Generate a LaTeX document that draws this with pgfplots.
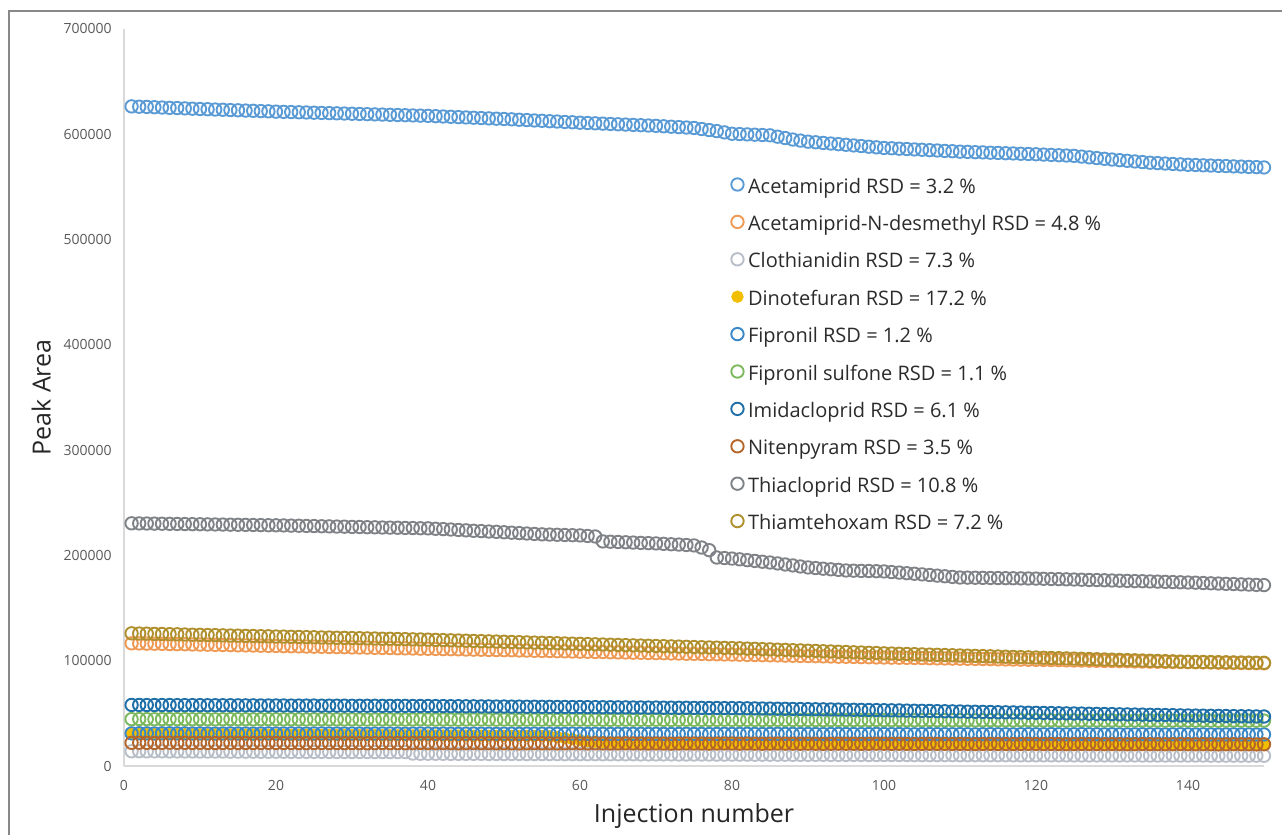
\documentclass[border=0pt]{standalone}
\usepackage{fontspec}
\setmainfont{Open Sans}
\usepackage{pgfplots}
\usepackage{pgfplotstable}
\pgfplotsset{compat=1.18}
\definecolor{cA}{HTML}{5B9BD5}
\definecolor{cB}{HTML}{EE9A55}
\definecolor{cC}{HTML}{B8BEC8}
\definecolor{cD}{HTML}{F2BE00}
\definecolor{cE}{HTML}{3A87C8}
\definecolor{cF}{HTML}{7CB95E}
\definecolor{cG}{HTML}{1F6FA8}
\definecolor{cH}{HTML}{B5662A}
\definecolor{cI}{HTML}{7F8286}
\definecolor{cJ}{HTML}{B08F2D}
\definecolor{framegray}{HTML}{888888}
\definecolor{axisgray}{HTML}{D9D9D9}
\definecolor{tickgray}{HTML}{595959}
\definecolor{legtext}{HTML}{2B2B2B}
\definecolor{labtext}{HTML}{262626}
% values in thousands
\pgfplotstableread{
x A B C D E F G H I J
1 626.5 116.5 14.0 30.5 31.0 44.5 58.0 22.0 230.5 126.0
2 626.2 116.4 14.0 30.5 31.1 44.6 58.0 22.1 230.4 125.8
3 626.0 116.2 13.9 30.4 31.0 44.5 57.9 22.0 230.3 125.7
4 625.7 116.1 13.9 30.4 30.9 44.4 57.9 21.9 230.2 125.5
5 625.4 116.0 13.9 30.4 31.0 44.5 57.9 22.0 230.1 125.4
6 625.1 115.8 13.8 30.3 31.1 44.6 57.9 22.1 230.0 125.2
7 624.9 115.7 13.8 30.3 31.0 44.5 57.8 22.0 229.9 125.1
8 624.6 115.6 13.8 30.2 31.0 44.5 57.8 22.0 229.8 124.9
9 624.3 115.4 13.8 30.2 30.9 44.4 57.8 21.9 229.7 124.7
10 624.0 115.3 13.7 30.2 31.0 44.5 57.8 22.0 229.6 124.6
11 623.8 115.2 13.7 30.1 30.9 44.4 57.7 21.9 229.5 124.4
12 623.5 115.0 13.7 30.1 30.8 44.3 57.7 21.8 229.4 124.3
13 623.3 114.9 13.7 30.1 30.9 44.4 57.7 21.9 229.3 124.1
14 623.0 114.8 13.6 30.0 31.0 44.5 57.7 22.0 229.2 123.9
15 622.8 114.6 13.6 30.0 30.9 44.4 57.6 21.9 229.1 123.8
16 622.5 114.5 13.6 29.9 30.9 44.4 57.6 21.9 229.0 123.6
17 622.3 114.4 13.6 29.9 30.8 44.3 57.6 21.8 228.9 123.5
18 622.0 114.2 13.5 29.9 30.9 44.4 57.5 21.9 228.8 123.3
19 621.8 114.1 13.5 29.8 31.0 44.5 57.5 22.0 228.7 123.2
20 621.5 114.0 13.5 29.8 30.9 44.4 57.5 21.9 228.6 123.0
21 621.3 113.8 13.5 29.8 30.9 44.3 57.5 21.8 228.5 122.9
22 621.1 113.7 13.4 29.7 31.0 44.4 57.4 21.9 228.3 122.7
23 620.9 113.6 13.4 29.7 30.9 44.3 57.4 21.8 228.2 122.6
24 620.7 113.4 13.4 29.6 30.8 44.2 57.4 21.7 228.0 122.4
25 620.5 113.3 13.4 29.6 30.9 44.3 57.4 21.8 227.9 122.3
26 620.3 113.2 13.4 29.6 31.0 44.4 57.3 21.9 227.7 122.1
27 620.1 113.0 13.3 29.5 30.9 44.3 57.3 21.8 227.6 122.0
28 619.9 112.9 13.3 29.5 30.9 44.3 57.3 21.8 227.4 121.8
29 619.7 112.8 13.3 29.5 30.8 44.2 57.3 21.7 227.3 121.7
30 619.5 112.6 13.3 29.4 30.9 44.3 57.2 21.8 227.1 121.5
31 619.3 112.5 13.3 29.4 30.8 44.2 57.2 21.7 227.0 121.4
32 619.1 112.4 13.3 29.3 30.7 44.1 57.2 21.6 226.8 121.2
33 618.9 112.2 13.2 29.3 30.8 44.2 57.2 21.7 226.7 121.1
34 618.7 112.1 13.2 29.3 30.9 44.3 57.1 21.8 226.5 120.9
35 618.5 112.0 13.2 29.2 30.8 44.2 57.1 21.7 226.4 120.8
36 618.3 111.8 13.2 29.2 30.8 44.2 57.1 21.7 226.3 120.6
37 618.1 111.7 13.2 29.2 30.7 44.1 57.1 21.6 226.1 120.5
38 617.9 111.6 11.8 29.1 30.8 44.2 57.0 21.7 226.0 120.3
39 617.7 111.4 11.6 29.1 30.9 44.3 57.0 21.8 225.8 120.2
40 617.5 111.3 11.6 29.0 30.8 44.2 57.0 21.7 225.7 120.0
41 617.2 111.2 11.6 29.0 30.7 44.1 56.9 21.6 225.3 119.8
42 616.9 111.0 11.6 29.0 30.8 44.2 56.9 21.7 225.0 119.6
43 616.6 110.9 11.5 28.9 30.7 44.1 56.8 21.6 224.6 119.4
44 616.3 110.8 11.5 28.9 30.6 44.0 56.8 21.5 224.2 119.2
45 616.0 110.6 11.5 28.9 30.7 44.1 56.7 21.6 223.8 119.0
46 615.7 110.5 11.5 28.8 30.8 44.2 56.7 21.7 223.4 118.8
47 615.4 110.4 11.5 28.8 30.7 44.1 56.6 21.6 223.1 118.6
48 615.1 110.2 11.4 28.7 30.7 44.1 56.6 21.6 222.7 118.4
49 614.8 110.1 11.4 28.7 30.6 44.0 56.5 21.5 222.4 118.2
50 614.5 110.0 11.4 28.7 30.7 44.1 56.5 21.6 222.0 118.0
51 614.2 109.9 11.4 28.6 30.7 44.0 56.4 21.5 221.6 117.8
52 613.8 109.7 11.4 28.6 30.6 43.9 56.4 21.4 221.2 117.6
53 613.5 109.6 11.3 28.6 30.7 44.0 56.3 21.5 220.8 117.4
54 613.1 109.4 11.3 28.5 30.8 44.1 56.3 21.6 220.4 117.2
55 612.8 109.3 11.3 28.5 30.7 44.0 56.2 21.5 220.0 117.0
56 612.4 109.2 11.3 28.2 30.7 44.0 56.2 21.5 219.8 116.8
57 612.1 109.0 11.3 27.5 30.6 43.9 56.1 21.4 219.6 116.6
58 611.7 108.9 11.2 26.5 30.7 44.0 56.1 21.5 219.4 116.4
59 611.4 108.7 11.2 25.5 30.8 44.1 56.0 21.6 219.2 116.2
60 611.0 108.6 11.2 24.5 30.7 44.0 56.0 21.5 219.0 116.0
61 610.7 108.5 11.2 23.6 30.6 43.9 55.9 21.4 218.5 115.8
62 610.4 108.3 11.2 23.0 30.7 44.0 55.9 21.5 218.0 115.6
63 610.1 108.2 11.1 22.5 30.6 43.9 55.8 21.4 213.3 115.4
64 609.8 108.0 11.1 22.2 30.5 43.8 55.8 21.3 213.0 115.2
65 609.5 107.9 11.1 22.0 30.6 43.9 55.7 21.4 212.8 115.0
66 609.2 107.8 11.1 21.9 30.7 44.0 55.7 21.5 212.5 114.8
67 608.9 107.6 11.1 21.9 30.6 43.9 55.6 21.4 212.2 114.6
68 608.6 107.5 11.0 21.8 30.6 43.9 55.6 21.4 211.9 114.4
69 608.3 107.3 11.0 21.8 30.5 43.8 55.5 21.3 211.7 114.2
70 608.0 107.2 11.0 21.8 30.6 43.9 55.5 21.4 211.4 114.0
71 607.6 107.1 11.0 21.7 30.5 43.8 55.4 21.3 211.0 113.8
72 607.2 106.9 11.0 21.7 30.4 43.7 55.4 21.2 210.6 113.6
73 606.8 106.8 10.9 21.7 30.5 43.8 55.3 21.3 210.3 113.4
74 606.4 106.6 10.9 21.6 30.6 43.9 55.3 21.4 209.9 113.2
75 606.0 106.5 10.9 21.6 30.5 43.8 55.2 21.3 209.5 113.0
76 605.0 106.4 10.9 21.6 30.5 43.8 55.2 21.3 207.5 112.8
77 604.0 106.2 10.9 21.5 30.4 43.7 55.1 21.2 205.0 112.6
78 603.0 106.1 10.8 21.5 30.5 43.8 55.1 21.3 198.0 112.4
79 601.8 105.9 10.8 21.5 30.6 43.9 55.0 21.4 197.5 112.2
80 600.5 105.8 10.8 21.4 30.5 43.8 55.0 21.3 197.0 112.0
81 600.2 105.7 10.8 21.4 30.5 43.7 54.9 21.2 196.3 111.8
82 599.9 105.5 10.8 21.4 30.6 43.8 54.8 21.3 195.5 111.5
83 599.6 105.4 10.7 21.3 30.5 43.7 54.7 21.2 194.8 111.3
84 599.3 105.2 10.7 21.3 30.4 43.6 54.6 21.1 194.0 111.0
85 599.0 105.1 10.7 21.3 30.5 43.7 54.5 21.2 193.3 110.8
86 597.7 105.0 10.7 21.2 30.6 43.8 54.4 21.3 192.4 110.5
87 596.4 104.8 10.7 21.2 30.5 43.7 54.3 21.2 191.4 110.3
88 595.0 104.7 10.6 21.2 30.5 43.7 54.2 21.2 190.5 110.0
89 594.0 104.5 10.6 21.1 30.4 43.6 54.1 21.1 189.5 109.8
90 593.0 104.4 10.6 21.1 30.5 43.7 54.0 21.2 188.6 109.5
91 592.4 104.3 10.6 21.1 30.4 43.6 53.9 21.1 188.0 109.3
92 591.8 104.1 10.6 21.0 30.3 43.5 53.8 21.0 187.4 109.0
93 591.2 104.0 10.5 21.0 30.4 43.6 53.7 21.1 186.8 108.8
94 590.6 103.8 10.5 21.0 30.5 43.7 53.6 21.2 186.3 108.5
95 590.0 103.7 10.5 20.9 30.4 43.6 53.5 21.1 185.7 108.3
96 589.4 103.6 10.5 20.9 30.4 43.6 53.4 21.1 185.5 108.0
97 588.8 103.4 10.5 20.9 30.3 43.5 53.3 21.0 185.3 107.8
98 588.2 103.3 10.4 20.8 30.4 43.6 53.2 21.1 185.2 107.5
99 587.6 103.1 10.4 20.8 30.5 43.7 53.1 21.2 185.0 107.3
100 587.0 103.0 10.4 20.8 30.4 43.6 53.0 21.1 184.8 107.0
101 586.7 102.9 10.4 20.8 30.3 43.5 52.9 21.0 184.2 106.8
102 586.3 102.8 10.4 20.7 30.4 43.6 52.8 21.1 183.7 106.6
103 586.0 102.7 10.4 20.7 30.3 43.5 52.6 21.0 183.1 106.4
104 585.6 102.6 10.3 20.7 30.2 43.4 52.5 20.9 182.6 106.2
105 585.3 102.5 10.3 20.7 30.3 43.5 52.4 21.0 182.0 106.0
106 584.9 102.3 10.3 20.6 30.4 43.6 52.3 21.1 181.4 105.8
107 584.6 102.2 10.3 20.6 30.3 43.5 52.1 21.0 180.8 105.6
108 584.2 102.1 10.3 20.6 30.3 43.5 52.0 21.0 180.2 105.4
109 583.9 102.0 10.3 20.6 30.2 43.4 51.9 20.9 179.6 105.2
110 583.5 101.9 10.2 20.5 30.3 43.5 51.8 21.0 179.0 105.0
111 583.3 101.8 10.2 20.5 30.2 43.4 51.6 20.9 178.9 104.8
112 583.0 101.7 10.2 20.5 30.1 43.3 51.5 20.8 178.8 104.6
113 582.8 101.6 10.2 20.5 30.2 43.4 51.4 20.9 178.7 104.4
114 582.5 101.5 10.2 20.5 30.3 43.5 51.3 21.0 178.6 104.2
115 582.3 101.3 10.2 20.4 30.2 43.4 51.1 20.9 178.5 104.0
116 582.0 101.2 10.2 20.4 30.2 43.4 51.0 20.9 178.4 103.8
117 581.8 101.1 10.1 20.4 30.1 43.3 50.9 20.8 178.3 103.6
118 581.5 101.0 10.1 20.4 30.2 43.4 50.8 20.9 178.2 103.4
119 581.3 100.9 10.1 20.4 30.3 43.5 50.6 21.0 178.1 103.2
120 581.0 100.8 10.1 20.3 30.2 43.4 50.5 20.9 178.0 103.0
121 580.7 100.7 10.1 20.3 30.2 43.3 50.4 20.8 177.8 102.8
122 580.4 100.6 10.1 20.3 30.3 43.4 50.3 20.9 177.6 102.6
123 580.1 100.5 10.1 20.3 30.2 43.3 50.1 20.8 177.5 102.4
124 579.8 100.3 10.1 20.3 30.1 43.2 50.0 20.7 177.3 102.2
125 579.5 100.2 10.0 20.3 30.2 43.3 49.9 20.8 177.1 102.0
126 578.8 100.1 10.0 20.2 30.3 43.4 49.8 20.9 176.9 101.8
127 578.1 100.0 10.0 20.2 30.2 43.3 49.6 20.8 176.7 101.6
128 577.4 99.9 10.0 20.2 30.2 43.3 49.5 20.8 176.6 101.4
129 576.7 99.8 10.0 20.2 30.1 43.2 49.4 20.7 176.4 101.2
130 576.0 99.7 10.0 20.2 30.2 43.3 49.3 20.8 176.2 101.0
131 575.4 99.6 10.0 20.2 30.1 43.2 49.1 20.7 176.0 100.8
132 574.8 99.5 10.0 20.1 30.0 43.1 49.0 20.6 175.8 100.6
133 574.2 99.3 10.0 20.1 30.1 43.2 48.9 20.7 175.6 100.4
134 573.6 99.2 9.9 20.1 30.2 43.3 48.8 20.8 175.5 100.2
135 573.0 99.1 9.9 20.1 30.1 43.2 48.6 20.7 175.3 100.0
136 572.6 99.0 9.9 20.1 30.1 43.2 48.5 20.7 175.1 99.8
137 572.2 98.9 9.9 20.1 30.0 43.1 48.4 20.6 174.9 99.6
138 571.8 98.8 9.9 20.1 30.1 43.2 48.3 20.7 174.7 99.4
139 571.4 98.7 9.9 20.0 30.2 43.3 48.1 20.8 174.5 99.2
140 571.0 98.6 9.9 20.0 30.1 43.2 48.0 20.7 174.3 99.0
141 570.8 98.5 9.9 20.0 30.0 43.1 47.9 20.6 174.1 98.9
142 570.5 98.4 9.9 20.0 30.1 43.2 47.8 20.7 173.8 98.8
143 570.3 98.3 9.8 20.0 30.0 43.1 47.7 20.6 173.5 98.7
144 570.0 98.1 9.8 20.0 29.9 43.0 47.6 20.5 173.3 98.6
145 569.8 98.0 9.8 20.0 30.0 43.1 47.5 20.6 173.0 98.5
146 569.5 97.9 9.8 20.0 30.1 43.2 47.4 20.7 172.8 98.4
147 569.3 97.8 9.8 20.0 30.0 43.1 47.3 20.6 172.5 98.3
148 569.0 97.7 9.8 20.0 30.0 43.1 47.2 20.6 172.3 98.2
149 568.8 97.6 9.8 20.0 29.9 43.0 47.1 20.5 172.0 98.1
150 568.5 97.5 9.7 20.0 30.0 43.1 47.0 20.6 171.8 98.0
}\data
\begin{document}
\begin{tikzpicture}
\path[use as bounding box] (0,0) rectangle (641pt,417.5pt);
\draw[color=framegray, line width=1pt] (4.5pt,-2pt) -- (4.5pt,412.2pt) -- (643pt,412.2pt);
\begin{axis}[
  at={(62pt,34.5pt)}, anchor=south west,
  scale only axis, width=570pt, height=368.5pt,
  xmin=0, xmax=150, ymin=0, ymax=700000,
  clip=false,
  separate axis lines,
  axis x line*=bottom, axis y line*=left,
  x axis line style={-, draw=axisgray, line width=0.8pt},
  y axis line style={-, draw=axisgray, line width=0.8pt},
  major tick length=0pt,
  xtick={0,20,...,140},
  ytick={0,100000,...,700000},
  scaled y ticks=false,
  /pgf/number format/assume math mode=true,
  y tick label style={/pgf/number format/fixed, /pgf/number format/1000 sep={}, anchor=east, inner sep=0pt, xshift=-6pt},
  x tick label style={anchor=center, inner sep=0pt, yshift=-9.5pt},
  tick label style={font=\fontsize{7}{8}\selectfont, text=tickgray},
  xlabel={Injection number},
  ylabel={Peak Area},
  xlabel style={at={(axis description cs:0.5,-0.068)}, anchor=center, font=\fontsize{12.5}{14}\selectfont, text=labtext},
  ylabel style={at={(axis description cs:-0.0725,0.5)}, anchor=center, font=\fontsize{12.5}{14}\selectfont, text=labtext},
  legend style={draw=none, fill=none, at={(0.5327,0.7977)}, anchor=north west, inner sep=0pt, outer sep=0pt,
    row sep=8.7pt, column sep=2.2pt, font=\fontsize{10}{12}\selectfont, text=legtext,
    nodes={inner sep=0pt, text height=7.5pt, text depth=2.5pt}},
  legend cell align=left,
  legend image code/.code={\draw[#1] plot coordinates {(3.1pt,1.8pt)};},
  every axis plot/.append style={only marks, mark size=3.1pt, line width=0.95pt},
]
\addplot[color=cA, mark=o] table[x=x, y expr=\thisrow{A}*1000] {\data};
\addlegendentry{Acetamiprid RSD = 3.2 \%}
\addplot[color=cB, mark=o] table[x=x, y expr=\thisrow{B}*1000] {\data};
\addlegendentry{Acetamiprid-N-desmethyl RSD = 4.8 \%}
\addplot[color=cC, mark=o] table[x=x, y expr=\thisrow{C}*1000] {\data};
\addlegendentry{Clothianidin RSD = 7.3 \%}
\addplot[color=cD, mark=*, mark size=2.6pt, mark options={fill=cD, draw=cD}] table[x=x, y expr=\thisrow{D}*1000] {\data};
\addlegendentry{Dinotefuran RSD = 17.2 \%}
\addplot[color=cE, mark=o] table[x=x, y expr=\thisrow{E}*1000] {\data};
\addlegendentry{Fipronil RSD = 1.2 \%}
\addplot[color=cF, mark=o] table[x=x, y expr=\thisrow{F}*1000] {\data};
\addlegendentry{Fipronil sulfone RSD = 1.1 \%}
\addplot[color=cG, mark=o] table[x=x, y expr=\thisrow{G}*1000] {\data};
\addlegendentry{Imidacloprid RSD = 6.1 \%}
\addplot[color=cH, mark=o] table[x=x, y expr=\thisrow{H}*1000] {\data};
\addlegendentry{Nitenpyram RSD = 3.5 \%}
\addplot[color=cI, mark=o] table[x=x, y expr=\thisrow{I}*1000] {\data};
\addlegendentry{Thiacloprid RSD = 10.8 \%}
\addplot[color=cJ, mark=o] table[x=x, y expr=\thisrow{J}*1000] {\data};
\addlegendentry{Thiamtehoxam RSD = 7.2 \%}
\end{axis}
\end{tikzpicture}
\end{document}
